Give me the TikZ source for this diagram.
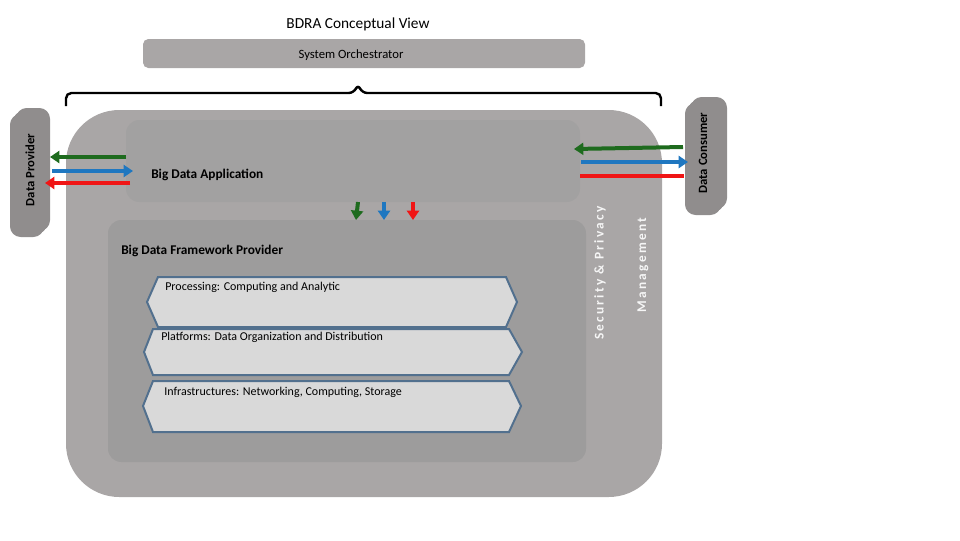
\documentclass[tikz,border=0pt]{standalone}
\usepackage{fontspec}
\setmainfont{Carlito}
\usetikzlibrary{arrows.meta}
\definecolor{outer}{HTML}{A9A6A6}
\definecolor{inner}{HTML}{A2A1A1}
\definecolor{hexf}{HTML}{D9D9D9}
\definecolor{hexd}{HTML}{52708E}
\definecolor{ag}{HTML}{1E6B1E}
\definecolor{ab}{HTML}{1F77C0}
\definecolor{ar}{HTML}{F01515}
\tikzset{
  side/.style={fill=outer!85!black, rounded corners=8pt},
  hexa/.style={fill=hexf, draw=hexd, line width=1.5pt},
  arr/.style={line width=3pt, -{Triangle[length=7pt,width=9pt]}},
  lbl/.style={font=\fontsize{9}{10}\selectfont, anchor=west, inner sep=0pt},
}
\begin{document}
\begin{tikzpicture}[x=0.75pt,y=-0.75pt]
\useasboundingbox (0,0) rectangle (960,540);
\node (title) at (358,24) {\fontsize{11.5}{13}\selectfont BDRA Conceptual View};
\fill[outer, rounded corners=4pt] (143,39) rectangle (585,68);
\node (orch) at (351,55) {\fontsize{9.5}{11}\selectfont System Orchestrator};
% brace
\draw[line width=1.8pt, rounded corners=4pt] (66,106) -- (66,93) -- (354,93) -- (358,84) -- (362,93) -- (661,93) -- (661,106);
% outer
\fill[outer, rounded corners=40pt] (66,110) rectangle (662,497);
\fill[inner, rounded corners=10pt] (126,120) rectangle (580,202);
\fill[inner!97!black, rounded corners=10pt] (108,220) rectangle (586,462);
\node[lbl, font=\fontsize{10}{12}\selectfont\bfseries] (app) at (151,175) {Big Data Application};
\node[lbl, font=\fontsize{10}{12}\selectfont\bfseries] (fw) at (121,251) {Big Data Framework Provider};
% side boxes
\foreach \d in {6,3,0}{
 \fill[side] (10+\d,114-\d) rectangle (44+\d,237-\d);
 \fill[side] (685+\d,103-\d) rectangle (721+\d,215-\d);
}
\node[rotate=90, font=\fontsize{9.5}{11}\selectfont\bfseries] (dp) at (30,170) {Data Provider};
\node[rotate=90, font=\fontsize{9.5}{11}\selectfont\bfseries] (dc) at (703,153) {Data Consumer};
\node[rotate=90, white!90!outer, font=\fontsize{10}{12}\selectfont\bfseries] (sec) at (600,273) {S\,e\,c\,u\,r\,i\,t\,y \,\& \,P\,r\,i\,v\,a\,c\,y};
\node[rotate=90, white!90!outer, font=\fontsize{10}{12}\selectfont\bfseries] (mgt) at (643,265) {M\,a\,n\,a\,g\,e\,m\,e\,n\,t};
% hexagons
\draw[hexa] (158,277) -- (506,277) -- (517,302) -- (506,327) -- (158,327) -- (147,302) -- cycle;
\draw[hexa] (153,329) -- (509,329) -- (522,352) -- (509,375) -- (153,375) -- (144,352) -- cycle;
\draw[hexa] (153,381) -- (509,381) -- (521,406) -- (509,432) -- (153,432) -- (143,406) -- cycle;
\node[lbl] (p1) at (165,287) {Processing: Computing and Analytic};
\node[lbl] (p2) at (161,337) {Platforms: Data Organization and Distribution};
\node[lbl] (p3) at (164,392) {Infrastructures: Networking, Computing, Storage};
% arrows left
\draw[arr, ag] (126,157) -- (50,157);
\draw[arr, ab] (52,171) -- (133,171);
\draw[arr, ar] (130,183) -- (45,183);
% right
\draw[arr, ag] (683,147) -- (574,149);
\draw[arr, ab] (581,162) -- (688,162);
\draw[line width=3pt, ar] (580,176) -- (684,176);
% down
\draw[arr, ag] (358,202) -- (356,220);
\draw[arr, ab] (384,202) -- (384,220);
\draw[arr, ar] (413,202) -- (413,220);
\end{tikzpicture}
\end{document}
